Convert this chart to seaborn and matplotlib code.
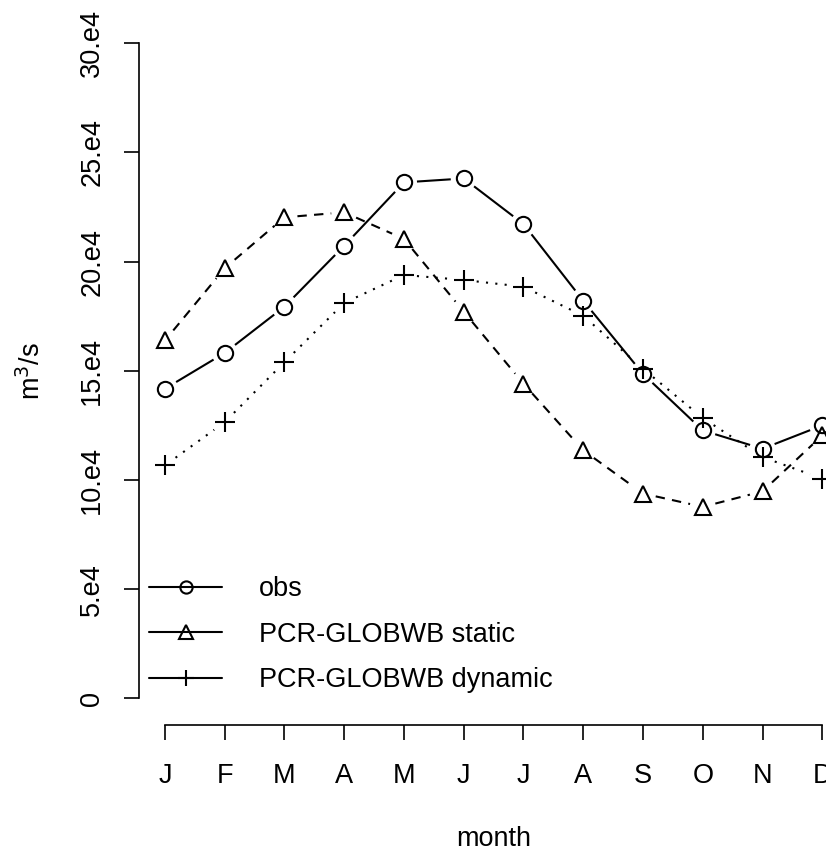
import numpy as np
import pandas as pd
import seaborn as sns
import matplotlib.pyplot as plt
from matplotlib.lines import Line2D

# monthly discharge (m3/s)
months = np.arange(1, 13)
month_labels = ['J', 'F', 'M', 'A', 'M', 'J', 'J', 'A', 'S', 'O', 'N', 'D']
obs = [14.18, 15.82, 17.94, 20.73, 23.63, 23.81, 21.72, 18.21, 14.86, 12.27, 11.43, 12.50]
static = [16.39, 19.70, 22.03, 22.26, 21.04, 17.71, 14.41, 11.36, 9.38, 8.77, 9.48, 12.04]
dynamic = [10.67, 12.65, 15.40, 18.11, 19.39, 19.16, 18.85, 17.52, 15.09, 12.84, 11.05, 10.06]
yticks = [0, 5, 10, 15, 20, 25, 30]
ytick_labels = ['0', '5.e4', '10.e4', '15.e4', '20.e4', '25.e4', '30.e4']

df = pd.DataFrame({'month': months,
                   'obs': np.array(obs) * 1e4,
                   'static': np.array(static) * 1e4,
                   'dynamic': np.array(dynamic) * 1e4})

sns.set_style('ticks')
plt.rcParams['font.family'] = ['Liberation Sans', 'DejaVu Sans']
plt.rcParams['text.color'] = 'black'
plt.rcParams['xtick.labelcolor'] = 'black'
plt.rcParams['ytick.labelcolor'] = 'black'
plt.rcParams['axes.labelcolor'] = 'black'
fs = 19.5

fig = plt.figure(figsize=(8.26, 8.51), dpi=100)
ax = fig.add_axes([0.1679, 0.1486, 0.8594, 0.8313])
ax.set_xlim(0.56, 12.44)
ax.set_ylim(-1.2e4, 31.2e4)

def gapped(x, y, gap, ls):
    # R type="b": line segments with a gap around each point
    pts = ax.transData.transform(np.column_stack([x, y]))
    inv = ax.transData.inverted()
    for p0, p1 in zip(pts[:-1], pts[1:]):
        d = p1 - p0
        L = np.hypot(*d)
        if L <= 2 * gap:
            continue
        u = d / L
        a = inv.transform(p0 + u * gap)
        b = inv.transform(p1 - u * gap)
        sns.lineplot(x=[a[0], b[0]], y=[a[1], b[1]], ax=ax, color='black',
                     linewidth=1.5, linestyle=ls, estimator=None, sort=False)

series = [('obs', 'o', 11, (0, ()), 'obs'),
          ('static', '^', 12, (0, (4.5, 3.5)), 'PCR-GLOBWB static'),
          ('dynamic', '+', 15, (0, (1, 3.5)), 'PCR-GLOBWB dynamic')]

handles = []
for col, mk, ms, ls, lab in series:
    gapped(df['month'].values, df[col].values, 13, ls)
    sns.lineplot(data=df, x='month', y=col, ax=ax, marker=mk, linestyle='',
                 markersize=ms, markerfacecolor='none', markeredgecolor='black',
                 markeredgewidth=1.5, color='black', estimator=None)
    handles.append(Line2D([], [], color='black', linewidth=1.5, marker=mk,
                          markersize=ms * 0.8, markerfacecolor='none',
                          markeredgecolor='black', markeredgewidth=1.5, label=lab))

# R style detached axes
for s in ['top', 'right']:
    ax.spines[s].set_visible(False)
ax.spines['left'].set_bounds(0, 30e4)
ax.spines['bottom'].set_bounds(1, 12)
for s in ['left', 'bottom']:
    ax.spines[s].set_linewidth(1.2)
    ax.spines[s].set_color('black')

ax.set_xticks(months)
ax.set_xticklabels(month_labels, fontsize=fs)
ax.set_yticks(np.array(yticks) * 1e4)
ax.set_yticklabels(ytick_labels, fontsize=fs, rotation=90, va='center')
ax.tick_params(axis='both', length=11, width=1.2, color='black')
ax.tick_params(axis='x', pad=17)
ax.tick_params(axis='y', pad=13)

ax.set_xlabel('month', fontsize=fs)
ax.set_ylabel('m$^3$/s', fontsize=fs)
ax.xaxis.set_label_coords(0.5, -0.143)
ax.yaxis.set_label_coords(-0.13, 0.5)

ax.legend(handles=handles, loc='lower left', frameon=False, fontsize=fs,
          handlelength=2.7, handletextpad=1.35, labelspacing=0.72,
          borderpad=0, borderaxespad=0, bbox_to_anchor=(0.0145, 0.044),
          numpoints=1)

fig.savefig('out.png', dpi=100, facecolor='white')
